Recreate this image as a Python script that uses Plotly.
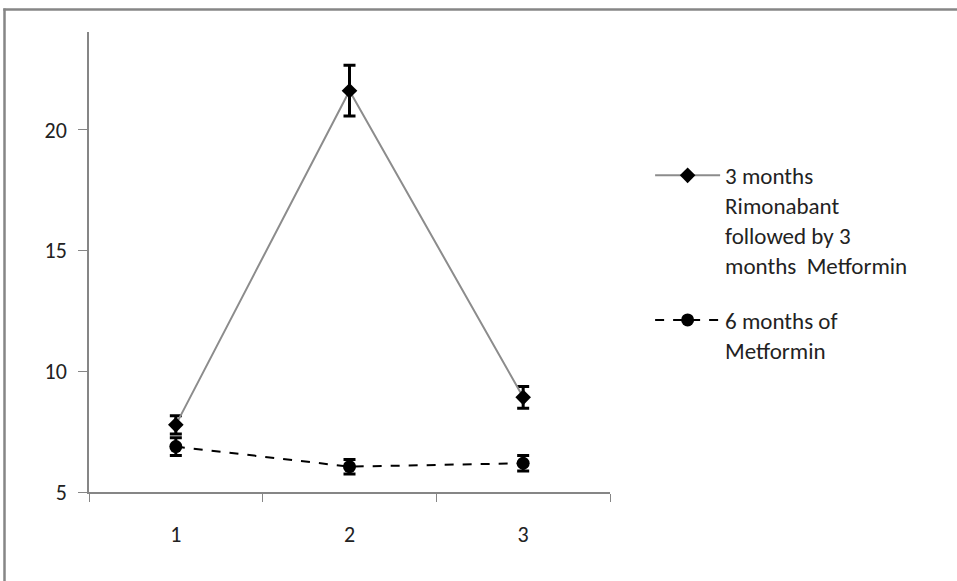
import plotly.graph_objects as go

# ---- data ----
timepoints = ["1", "2", "3"]
rimonabant_metformin = [7.78, 21.62, 8.92]
rimonabant_metformin_err = [0.38, 1.05, 0.45]
metformin_only = [6.88, 6.05, 6.19]
metformin_only_err = [0.37, 0.30, 0.32]
series_names = [
    "3 months<br>Rimonabant<br>followed by 3<br>months  Metformin",
    "6 months of<br>Metformin",
]
y_ticks = [5, 10, 15, 20]

FONT = "Carlito, Lato, sans-serif"
GREY = "#868686"

fig = go.Figure()
fig.add_trace(go.Scatter(
    x=timepoints, y=rimonabant_metformin, name=series_names[0],
    mode="lines+markers",
    line=dict(color="#8c8c8c", width=2),
    marker=dict(symbol="diamond", size=12, color="black"),
    error_y=dict(type="data", array=rimonabant_metformin_err, color="black",
                 thickness=3, width=6),
    legendgroup="a",
))
fig.add_trace(go.Scatter(
    x=timepoints, y=metformin_only, name=series_names[1],
    mode="lines+markers",
    line=dict(color="black", width=2, dash="dash"),
    marker=dict(symbol="circle", size=13, color="black"),
    error_y=dict(type="data", array=metformin_only_err, color="black",
                 thickness=3, width=6),
    legendgroup="b",
))

fig.update_layout(
    width=957, height=581,
    margin=dict(l=89, r=347, t=32, b=89),
    paper_bgcolor="white", plot_bgcolor="white",
    font=dict(family=FONT, size=22, color="#222"),
    showlegend=True,
    legend=dict(
        x=1.077, y=0.735, xanchor="left", yanchor="top",
        font=dict(family=FONT, size=23, color="#222"),
        valign="top", tracegroupgap=22, bgcolor="rgba(0,0,0,0)",
        itemwidth=65,
    ),
    xaxis=dict(
        type="category", range=[-0.5, 2.5],
        showline=True, linecolor=GREY, linewidth=1.5,
        ticks="outside", tickson="boundaries", ticklen=8, tickcolor=GREY,
        showgrid=False, zeroline=False,
        ticklabelstandoff=22,
    ),
    yaxis=dict(
        range=[5, 24.05], tickvals=y_ticks,
        showline=True, linecolor=GREY, linewidth=1.5,
        ticks="outside", ticklen=9, tickcolor=GREY,
        showgrid=False, zeroline=False,
        ticklabelstandoff=7,
    ),
    shapes=[
        dict(type="line", xref="paper", yref="paper",
             x0=(4.5 - 89) / 521, x1=(4.5 - 89) / 521, y0=(492 - 600) / 460, y1=(492 - 8.5) / 460,
             line=dict(color=GREY, width=2.5), layer="below"),
        dict(type="line", xref="paper", yref="paper",
             x0=(3.3 - 89) / 521, x1=(1000 - 89) / 521, y0=(492 - 9.5) / 460, y1=(492 - 9.5) / 460,
             line=dict(color=GREY, width=2.5), layer="below"),
    ],
)

fig.write_html("out.html", config={"displayModeBar": False},
               post_script="document.body.style.margin='0';")
